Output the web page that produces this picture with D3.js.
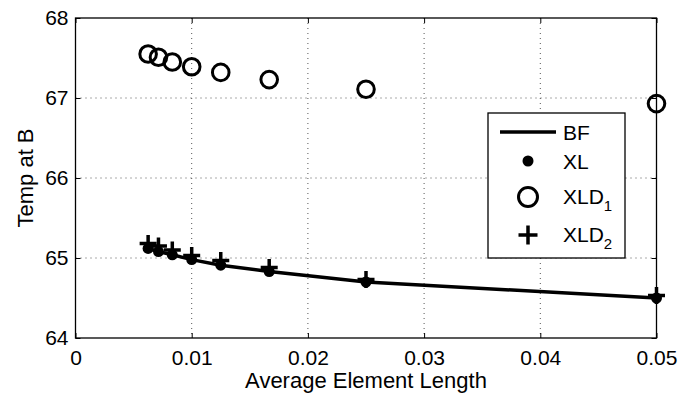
<!DOCTYPE html>
<html>
<head>
<meta charset="utf-8">
<script src="https://cdn.jsdelivr.net/npm/d3@7"></script>
<style>
  body { margin: 0; background: #fff; }
  svg text { font-family: "Liberation Sans", Arial, sans-serif; fill: #000; }
</style>
</head>
<body>
<div id="chart"></div>
<script>
// element lengths (x) and temperatures at B
const elemLen = [0.00625, 0.00714, 0.00833, 0.01, 0.0125, 0.01667, 0.025, 0.05];
const bfVals = [65.12, 65.08, 65.04, 64.98, 64.91, 64.83, 64.70, 64.50];
const xlVals = [65.12, 65.08, 65.04, 64.98, 64.91, 64.83, 64.70, 64.50];
const xld1Vals = [67.55, 67.51, 67.45, 67.39, 67.32, 67.23, 67.11, 66.93];
const xld2Vals = [65.18, 65.15, 65.10, 65.03, 64.97, 64.88, 64.73, 64.53];
const xTicks = [0, 0.01, 0.02, 0.03, 0.04, 0.05];
const yTicks = [64, 65, 66, 67, 68];

const W = 678, H = 393;
const margin = { top: 18, right: 21.5, bottom: 55, left: 75.5 };
const width = W - margin.left - margin.right;
const height = H - margin.top - margin.bottom;

const svg = d3.select("#chart").append("svg")
    .attr("width", W)
    .attr("height", H);

const g = svg.append("g")
    .attr("transform", "translate(" + margin.left + "," + margin.top + ")");

const x = d3.scaleLinear().domain([0, 0.05]).range([0, width]);
const y = d3.scaleLinear().domain([64, 68]).range([height, 0]);

// dotted grid
g.append("g").selectAll("line")
    .data(xTicks.slice(1, -1))
    .enter().append("line")
    .attr("x1", d => x(d)).attr("x2", d => x(d))
    .attr("y1", 0).attr("y2", height)
    .attr("stroke", "#555").attr("stroke-dasharray", "1,4");

g.append("g").selectAll("line")
    .data(yTicks.slice(1, -1))
    .enter().append("line")
    .attr("x1", 0).attr("x2", width)
    .attr("y1", d => y(d)).attr("y2", d => y(d))
    .attr("stroke", "#555").attr("stroke-dasharray", "1,4");

// axes with inward ticks
const fmtX = d => d === 0 ? "0" : d3.format(".2f")(d);
g.append("g")
    .attr("transform", "translate(0," + height + ")")
    .call(d3.axisBottom(x).tickValues(xTicks).tickSize(-5).tickPadding(12).tickFormat(fmtX))
    .call(a => a.select(".domain").remove())
    .selectAll("text").attr("font-size", "21px");

g.append("g")
    .call(d3.axisTop(x).tickValues(xTicks).tickSize(-5).tickFormat(""))
    .call(a => a.select(".domain").remove());

g.append("g")
    .call(d3.axisLeft(y).tickValues(yTicks).tickSize(-5).tickPadding(7).tickFormat(d3.format("d")))
    .call(a => a.select(".domain").remove())
    .selectAll("text").attr("font-size", "21px");

g.append("g")
    .attr("transform", "translate(" + width + ",0)")
    .call(d3.axisRight(y).tickValues(yTicks).tickSize(-5).tickFormat(""))
    .call(a => a.select(".domain").remove());

g.selectAll(".tick line").attr("stroke", "#000");
g.selectAll(".tick text").attr("font-family", "Liberation Sans, Arial, sans-serif");

g.append("rect")
    .attr("width", width).attr("height", height)
    .attr("fill", "none").attr("stroke", "#000").attr("stroke-width", 1.3);

// BF line
const pts = elemLen.map((d, i) => [d, bfVals[i]]);
g.append("path")
    .datum(pts)
    .attr("fill", "none")
    .attr("stroke", "#000")
    .attr("stroke-width", 3.5)
    .attr("d", d3.line().x(d => x(d[0])).y(d => y(d[1])));

// XL dots
g.selectAll(".xl")
    .data(elemLen)
    .enter().append("circle")
    .attr("class", "xl")
    .attr("cx", d => x(d))
    .attr("cy", (d, i) => y(xlVals[i]))
    .attr("r", 5.5)
    .attr("fill", "#000");

// XLD1 circles
g.selectAll(".xld1")
    .data(elemLen)
    .enter().append("circle")
    .attr("class", "xld1")
    .attr("cx", d => x(d))
    .attr("cy", (d, i) => y(xld1Vals[i]))
    .attr("r", 8.3)
    .attr("fill", "none")
    .attr("stroke", "#000")
    .attr("stroke-width", 3);

// XLD2 plus signs
function plusPath(s) {
    return "M" + (-s) + ",0H" + s + "M0," + (-s) + "V" + s;
}
g.selectAll(".xld2")
    .data(elemLen)
    .enter().append("path")
    .attr("class", "xld2")
    .attr("transform", (d, i) => "translate(" + x(d) + "," + y(xld2Vals[i]) + ")")
    .attr("d", plusPath(8.5))
    .attr("stroke", "#000")
    .attr("stroke-width", 3.5)
    .attr("fill", "none");

// legend
const lg = svg.append("g").attr("transform", "translate(488,113)");
lg.append("rect")
    .attr("width", 137).attr("height", 145)
    .attr("fill", "#fff").attr("stroke", "#000").attr("stroke-width", 1.3);

const mx = 40, tx = 75;
lg.append("line")
    .attr("x1", 12).attr("x2", 68).attr("y1", 19).attr("y2", 19)
    .attr("stroke", "#000").attr("stroke-width", 3.5);
lg.append("text").attr("x", tx).attr("y", 26.5).attr("font-size", "21px").text("BF");

lg.append("circle").attr("cx", mx).attr("cy", 48).attr("r", 5.5).attr("fill", "#000");
lg.append("text").attr("x", tx).attr("y", 56).attr("font-size", "21px").text("XL");

lg.append("circle").attr("cx", mx).attr("cy", 84).attr("r", 9.5)
    .attr("fill", "none").attr("stroke", "#000").attr("stroke-width", 3);
const t1 = lg.append("text").attr("x", tx).attr("y", 91).attr("font-size", "21px");
t1.append("tspan").text("XLD");
t1.append("tspan").attr("font-size", "15px").attr("dy", 7).text("1");

lg.append("path").attr("transform", "translate(" + mx + ",122)")
    .attr("d", plusPath(9.5)).attr("stroke", "#000").attr("stroke-width", 3.5);
const t2 = lg.append("text").attr("x", tx).attr("y", 129).attr("font-size", "21px");
t2.append("tspan").text("XLD");
t2.append("tspan").attr("font-size", "15px").attr("dy", 7).text("2");

// axis titles
svg.append("text")
    .attr("x", margin.left + width / 2)
    .attr("y", 388)
    .attr("text-anchor", "middle")
    .attr("font-size", "22px")
    .text("Average Element Length");

svg.append("text")
    .attr("transform", "translate(33," + (margin.top + height / 2) + ") rotate(-90)")
    .attr("text-anchor", "middle")
    .attr("font-size", "22px")
    .text("Temp at B");
</script>
</body>
</html>
